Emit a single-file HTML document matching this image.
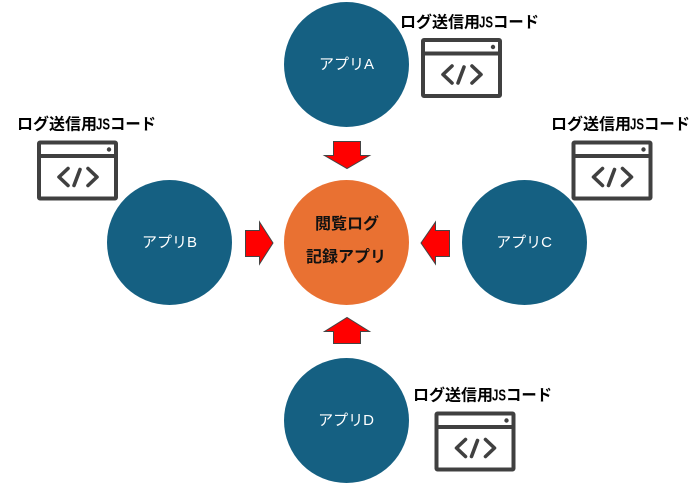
<!DOCTYPE html>
<html lang="ja">
<head>
<meta charset="utf-8">
<style>
html,body{margin:0;padding:0;background:#fff;width:697px;height:489px;overflow:hidden}
svg{display:block}
text{font-family:"Liberation Sans","Noto Sans CJK JP",sans-serif}
.app{fill:#fff;font-size:15px;text-anchor:middle}
.lbl{fill:#000;font-size:16px;font-weight:700}
.core{fill:#111;font-size:16px;font-weight:700;text-anchor:middle}
.arr{fill:#f00;stroke:#444;stroke-width:1}
</style>
</head>
<body>
<svg width="697" height="489" viewBox="0 0 697 489" xmlns="http://www.w3.org/2000/svg">
<defs>
<g id="ic" fill="none" stroke="#404040" stroke-width="4">
<rect x="2" y="2" width="77" height="56" rx="1"/>
<path d="M2 15.500H79"/>
<circle cx="72" cy="9" r="2.200" fill="#404040" stroke="none"/>
<path d="M31 28L22 36.500L31 45M51 28L60 36.500L51 45M43 29L37 45" stroke-width="3.600" stroke-linecap="round" stroke-linejoin="round"/>
</g>
</defs>
<circle cx="346.500" cy="64.500" r="62.500" fill="#156082"/>
<circle cx="169.500" cy="242.500" r="62.500" fill="#156082"/>
<circle cx="524.500" cy="242.500" r="62.500" fill="#156082"/>
<circle cx="346.500" cy="420.500" r="62.500" fill="#156082"/>
<circle cx="346.500" cy="242.500" r="62.500" fill="#E97132"/>
<text class="app" x="346.500" y="69">アプリA</text>
<text class="app" x="169.500" y="247">アプリB</text>
<text class="app" x="524" y="247">アプリC</text>
<text class="app" x="346" y="425">アプリD</text>
<text class="core" x="347" y="229">閲覧ログ</text>
<text class="core" x="346" y="262">記録アプリ</text>
<polygon class="arr" points="333.500,141.500 360.500,141.500 360.500,155.500 369.500,155.500 347,168.500 324.500,155.500 333.500,155.500"/>
<polygon class="arr" points="333.500,343.500 360.500,343.500 360.500,331.500 369.500,331.500 347,317.500 324.500,331.500 333.500,331.500"/>
<polygon class="arr" points="245.500,230.500 259.500,230.500 259.500,222 273,243 259.500,264 259.500,256.500 245.500,256.500"/>
<polygon class="arr" points="449.500,230.500 435.500,230.500 435.500,222 421,243 435.500,264 435.500,256.500 449.500,256.500"/>
<use href="#ic" x="421" y="38"/>
<use href="#ic" x="37" y="140.500"/>
<use href="#ic" x="571.500" y="140.500"/>
<use href="#ic" x="434.500" y="411.500"/>
<text class="lbl" y="27.500"><tspan x="400">ログ送信用</tspan><tspan x="479" textLength="14" lengthAdjust="spacingAndGlyphs">JS</tspan><tspan x="493" textLength="46" lengthAdjust="spacingAndGlyphs">コード</tspan></text>
<text class="lbl" y="129.500"><tspan x="17">ログ送信用</tspan><tspan x="96" textLength="14" lengthAdjust="spacingAndGlyphs">JS</tspan><tspan x="110" textLength="46" lengthAdjust="spacingAndGlyphs">コード</tspan></text>
<text class="lbl" y="129.500"><tspan x="551">ログ送信用</tspan><tspan x="630" textLength="14" lengthAdjust="spacingAndGlyphs">JS</tspan><tspan x="644" textLength="46" lengthAdjust="spacingAndGlyphs">コード</tspan></text>
<text class="lbl" y="400.500"><tspan x="413">ログ送信用</tspan><tspan x="492" textLength="14" lengthAdjust="spacingAndGlyphs">JS</tspan><tspan x="506" textLength="46" lengthAdjust="spacingAndGlyphs">コード</tspan></text>
</svg>
</body>
</html>
